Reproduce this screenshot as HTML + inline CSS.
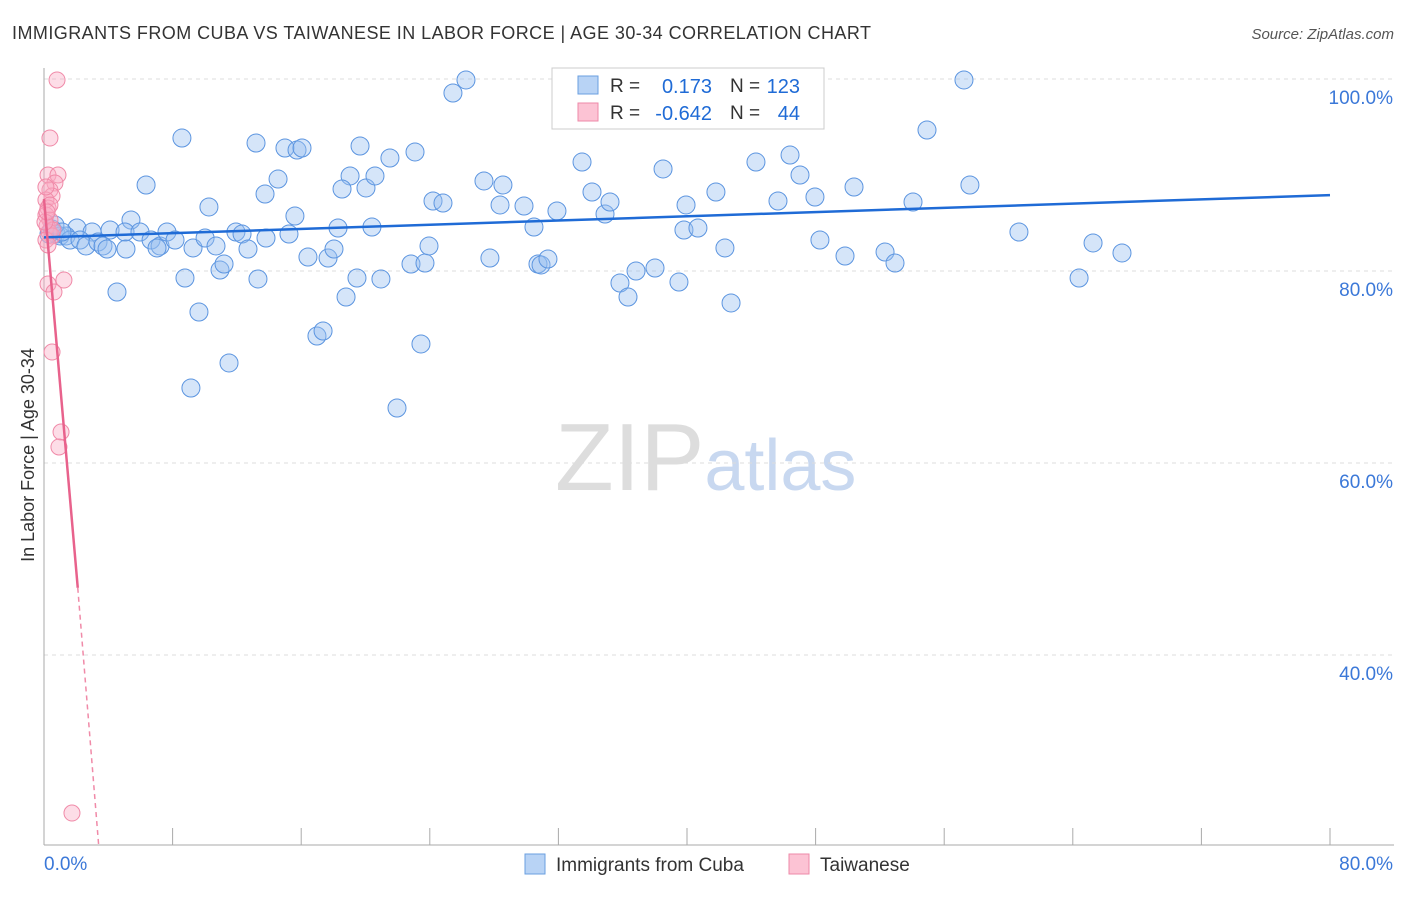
<!DOCTYPE html>
<html><head><meta charset="utf-8"><style>
body{margin:0;background:#fff;font-family:"Liberation Sans",sans-serif;}
svg text{font-family:"Liberation Sans",sans-serif;}
</style></head><body>
<svg id="chart" width="1406" height="892" xmlns="http://www.w3.org/2000/svg">
<text x="12" y="39" font-size="18" fill="#333" textLength="859" lengthAdjust="spacing">IMMIGRANTS FROM CUBA VS TAIWANESE IN LABOR FORCE | AGE 30-34 CORRELATION CHART</text>
<text x="1394" y="39" font-size="15" fill="#555" text-anchor="end" font-style="italic">Source: ZipAtlas.com</text>
<text x="555" y="490" font-size="96" fill="#ddd" font-family="Liberation Serif">ZIP<tspan fill="#c8d8f0" font-family="Liberation Sans" font-size="72">atlas</tspan></text>
<text transform="translate(34,455) rotate(-90)" font-size="18" fill="#333" text-anchor="middle">In Labor Force | Age 30-34</text>
<g id="grid"></g><g id="pts"></g><g id="lines"></g>
<g>
<rect x="552" y="68" width="272" height="61" fill="#fff" stroke="#ccc"/>
<rect x="578" y="76" width="20" height="18" fill="#b8d3f5" stroke="#6a9fe0"/>
<text x="610" y="92" font-size="19" fill="#333">R = </text><text x="712" y="93" font-size="20" fill="#1f6bd6" text-anchor="end">0.173</text>
<text x="730" y="92" font-size="19" fill="#333">N = </text><text x="800" y="93" font-size="20" fill="#1f6bd6" text-anchor="end">123</text>
<rect x="578" y="103" width="20" height="18" fill="#fcc3d4" stroke="#ee8aa8"/>
<text x="610" y="119" font-size="19" fill="#333">R = </text><text x="712" y="120" font-size="20" fill="#1f6bd6" text-anchor="end">-0.642</text>
<text x="730" y="119" font-size="19" fill="#333">N = </text><text x="800" y="120" font-size="20" fill="#1f6bd6" text-anchor="end">44</text>
</g>
<g>
<rect x="525" y="854" width="20" height="20" fill="#b8d3f5" stroke="#6a9fe0"/>
<text x="556" y="871" font-size="19" fill="#333">Immigrants from Cuba</text>
<rect x="789" y="854" width="20" height="20" fill="#fcc3d4" stroke="#ee8aa8"/>
<text x="820" y="871" font-size="19" fill="#333">Taiwanese</text>
</g>
<text x="44" y="870" font-size="19" fill="#3b78d8">0.0%</text>
<text x="1393" y="870" font-size="19" fill="#3b78d8" text-anchor="end">80.0%</text>
</svg>
<script>
const yTicks=[100,80,60,40];
const xTicks=[0,8,16,24,32,40,48,56,64,72,80];
const bluePx=[[182,138],[256,143],[285,148],[297,150],[302,148],[360,146],[390,158],[415,152],[453,93],[466,80],[146,185],[209,207],[265,194],[278,179],[295,216],[350,176],[342,189],[366,188],[375,176],[433,201],[443,203],[484,181],[500,205],[503,185],[524,206],[557,211],[582,162],[592,192],[605,214],[610,202],[663,169],[686,205],[716,192],[756,162],[778,201],[790,155],[800,175],[815,197],[854,187],[913,202],[927,130],[964,80],[970,185],[131,220],[77,228],[92,232],[110,230],[125,232],[140,232],[151,240],[160,246],[167,232],[175,240],[193,248],[205,238],[216,246],[236,232],[242,234],[248,249],[266,238],[289,234],[308,257],[328,258],[334,249],[338,228],[372,227],[411,264],[425,263],[429,246],[490,258],[534,227],[538,264],[541,265],[548,259],[684,230],[698,228],[725,248],[820,240],[845,256],[885,252],[895,263],[1019,232],[1093,243],[1122,253],[1079,278],[117,292],[185,278],[220,270],[224,264],[258,279],[346,297],[357,278],[381,279],[620,283],[628,297],[636,271],[655,268],[679,282],[731,303],[199,312],[317,336],[323,331],[421,344],[229,363],[191,388],[397,408],[52,229],[56,234],[60,236],[66,236],[70,240],[80,240],[86,246],[98,242],[103,246],[107,249],[126,249],[157,248],[49,234],[55,225],[62,232],[567,78]];
const pinkPx=[[57,80],[50,138],[48,175],[58,175],[55,183],[50,190],[52,196],[46,200],[48,208],[46,215],[50,220],[47,226],[49,232],[52,236],[46,240],[48,245],[64,280],[48,284],[54,292],[52,352],[61,432],[59,447],[72,813],[46,187],[50,205],[53,230],[45,222],[47,212]];
// data values (percent) derived from reading the picture
const blueX=bluePx.map(p=>+((p[0]-44)/16.075).toFixed(2));
const blueY=bluePx.map(p=>+(100-(p[1]-79)/9.6).toFixed(2));
const pinkX=pinkPx.map(p=>+((p[0]-44)/16.075).toFixed(2));
const pinkY=pinkPx.map(p=>+(100-(p[1]-79)/9.6).toFixed(2));
const blueTrend=[83.5,87.9];
const pinkTrend=[[0,87.5],[2.1,47],[3.4,20.2]];
const X=v=>44+v*16.075, Y=v=>79+(100-v)*9.6;
const NS="http://www.w3.org/2000/svg";
function mk(t,a,p){const e=document.createElementNS(NS,t);for(const k in a)e.setAttribute(k,a[k]);p.appendChild(e);return e;}
const grid=document.getElementById('grid');
yTicks.forEach(v=>{
 const l=mk('line',{x1:44,x2:1394,y1:Y(v),y2:Y(v),stroke:'#ddd','stroke-dasharray':'4,4'},grid);
 
 
 const t=mk('text',{x:1393,y:Y(v)+25,'font-size':19,fill:'#3b78d8','text-anchor':'end'},grid);t.textContent=v.toFixed(1)+'%';
 
 
});
mk('line',{x1:44,x2:44,y1:68,y2:845,stroke:'#aaa'},grid);
mk('line',{x1:44,x2:1394,y1:845,y2:845,stroke:'#aaa'},grid);
xTicks.forEach(v=>{const l=mk('line',{x1:X(v),x2:X(v),y1:828,y2:845,stroke:'#aaa'},grid);
 
 });
const pts=document.getElementById('pts');
blueX.forEach((x,i)=>{const c=mk('circle',{cx:X(x),cy:Y(blueY[i]),r:9,fill:'rgba(150,190,240,0.4)',stroke:'#5c95e0','stroke-width':1},pts);
 
 });
pinkX.forEach((x,i)=>{const c=mk('circle',{cx:X(x),cy:Y(pinkY[i]),r:8,fill:'rgba(250,170,195,0.4)',stroke:'#f08aa8','stroke-width':1},pts);
 
 });
const lines=document.getElementById('lines');
const bl=mk('line',{x1:X(0),y1:Y(blueTrend[0]),x2:X(80),y2:Y(blueTrend[1]),stroke:'#1f6bd6','stroke-width':2.5},lines);


const pl=mk('line',{x1:X(pinkTrend[0][0]),y1:Y(pinkTrend[0][1]),x2:X(pinkTrend[1][0]),y2:Y(pinkTrend[1][1]),stroke:'#e8628c','stroke-width':2.5},lines);


const pd=mk('line',{x1:X(pinkTrend[1][0]),y1:Y(pinkTrend[1][1]),x2:X(pinkTrend[2][0]),y2:Y(pinkTrend[2][1]),stroke:'#f08aa8','stroke-width':1.5,'stroke-dasharray':'5,4'},lines);


</script>
</body></html>
